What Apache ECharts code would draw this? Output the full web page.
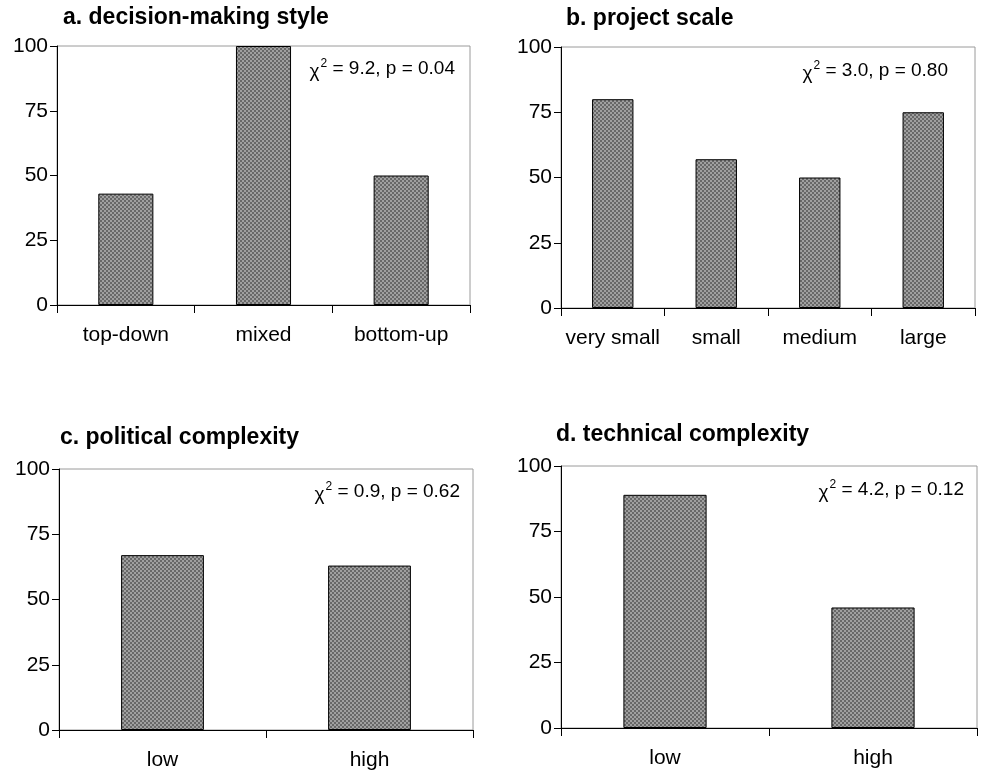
<!DOCTYPE html>
<html>
<head>
<meta charset="utf-8">
<script src="https://cdn.jsdelivr.net/npm/echarts@6/dist/echarts.min.js"></script>
<style>
  html, body { margin: 0; padding: 0; background: #fff; }
  #chart { width: 981px; height: 777px; }
</style>
</head>
<body>
<div id="chart"></div>
<script>
const styleCats = ['top-down', 'mixed', 'bottom-up']
const styleVals = [43, 100, 50]
const scaleCats = ['very small', 'small', 'medium', 'large']
const scaleVals = [80, 57, 50, 75]
const politicalCats = ['low', 'high']
const politicalVals = [67, 63]
const technicalCats = ['low', 'high']
const technicalVals = [89, 46]
const yTicks = [0, 25, 50, 75, 100]

const panelTitles = ['a. decision-making style', 'b. project scale', 'c. political complexity', 'd. technical complexity']
const chiStats = [['9.2', '0.04'], ['3.0', '0.80'], ['0.9', '0.62'], ['4.2', '0.12']]

const FONT = '"Liberation Sans", Arial, sans-serif'

// checker tile, like the old spreadsheet fill
const tile = document.createElement('canvas')
tile.width = 4
tile.height = 4
const tctx = tile.getContext('2d')
tctx.fillStyle = '#a0a0a0'
tctx.fillRect(0, 0, 4, 4)
tctx.fillStyle = '#686868'
tctx.fillRect(0, 0, 2, 2)
tctx.fillRect(2, 2, 2, 2)

const grids = [
  { left: 57, top: 46, width: 413, height: 259 },
  { left: 561, top: 47, width: 414, height: 261 },
  { left: 59, top: 469, width: 414, height: 261 },
  { left: 561, top: 466, width: 416, height: 262 },
]
const cats = [styleCats, scaleCats, politicalCats, technicalCats]
const vals = [styleVals, scaleVals, politicalVals, technicalVals]

const titlePos = [
  { left: 63, top: 6 },
  { left: 566, top: 7 },
  { left: 60, top: 426 },
  { left: 556, top: 423 },
]
const statPos = [
  { right: 526, top: 57 },
  { right: 33, top: 59 },
  { right: 521, top: 480 },
  { right: 17, top: 478 },
]

const chart = echarts.init(document.getElementById('chart'))

chart.setOption({
  animation: false,
  backgroundColor: '#fff',
  title: [
    ...panelTitles.map((t, i) => ({
      text: t,
      left: titlePos[i].left,
      top: titlePos[i].top,
      padding: 0,
      textStyle: { fontFamily: FONT, fontSize: 23, fontWeight: 'bold', color: '#000' },
    })),
    ...chiStats.map((s, i) => ({
      text: '{c|χ}{s|2}{n| = ' + s[0] + ', p = ' + s[1] + '}',
      right: statPos[i].right,
      top: statPos[i].top,
      padding: 0,
      textStyle: {
        fontWeight: 'normal',
        rich: {
          c: { fontFamily: FONT, fontSize: 19, fontWeight: 'normal', color: '#000', padding: [5, 0, 0, 0] },
          s: { fontFamily: FONT, fontSize: 12, fontWeight: 'normal', color: '#000', padding: [0, 0, 10, 1] },
          n: { fontFamily: FONT, fontSize: 19, fontWeight: 'normal', color: '#000' },
        },
      },
    })),
  ],
  grid: grids.map(g => ({ ...g, show: true, borderColor: '#9a9a9a', borderWidth: 1, backgroundColor: '#fff' })),
  xAxis: cats.map((c, i) => ({
    type: 'category',
    gridIndex: i,
    data: c,
    axisLine: { lineStyle: { color: '#000', width: 1 } },
    axisTick: { show: true, length: 8, interval: 0, lineStyle: { color: '#000' } },
    axisLabel: { color: '#000', fontFamily: FONT, fontSize: 21, margin: 20, interval: 0 },
    splitLine: { show: false },
  })),
  yAxis: cats.map((c, i) => ({
    type: 'value',
    gridIndex: i,
    min: yTicks[0],
    max: yTicks[yTicks.length - 1],
    interval: 25,
    axisLine: { show: true, lineStyle: { color: '#000', width: 1 } },
    axisTick: { show: true, length: 7, lineStyle: { color: '#000' } },
    axisLabel: { color: '#000', fontFamily: FONT, fontSize: 21, margin: 9 },
    splitLine: { show: false },
  })),
  series: vals.map((v, i) => ({
    type: 'bar',
    xAxisIndex: i,
    yAxisIndex: i,
    data: v,
    barWidth: '40%',
    itemStyle: {
      color: { image: tile, repeat: 'repeat' },
      borderColor: '#000',
      borderWidth: 1,
    },
  })),
})
</script>
</body>
</html>
